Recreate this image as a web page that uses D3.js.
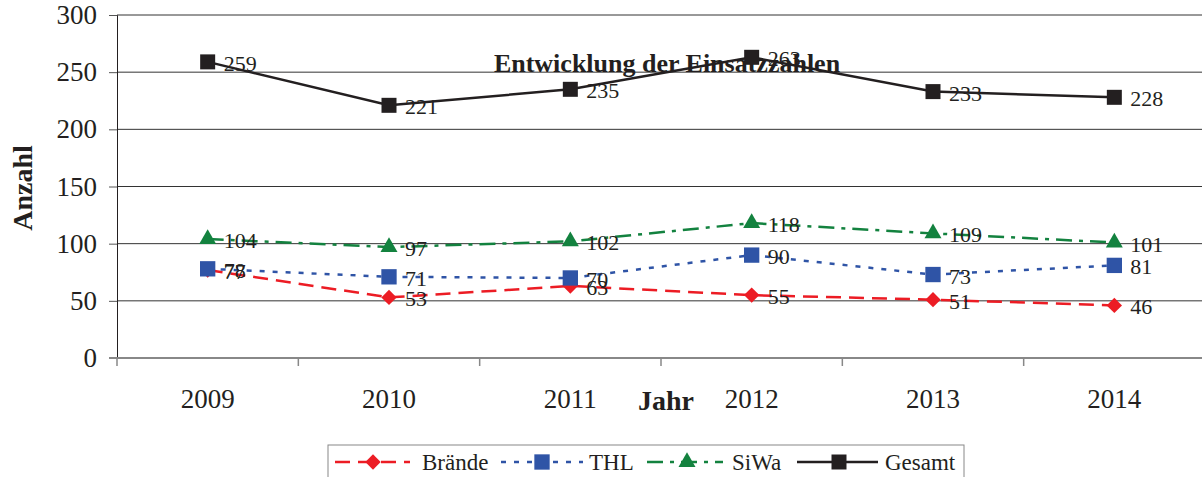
<!DOCTYPE html>
<html>
<head>
<meta charset="utf-8">
<script src="https://cdn.jsdelivr.net/npm/d3@7"></script>
<style>
  body { margin: 0; background: #fff; }
  svg { display: block; font-family: "Liberation Serif", "Times New Roman", serif; }
</style>
</head>
<body>
<svg id="chart" width="1202" height="477"></svg>
<script>
// data
const years = ["2009", "2010", "2011", "2012", "2013", "2014"];
const braende = [77, 53, 63, 55, 51, 46];
const thl = [78, 71, 70, 90, 73, 81];
const siwa = [104, 97, 102, 118, 109, 101];
const gesamt = [259, 221, 235, 263, 233, 228];
const yTicks = [0, 50, 100, 150, 200, 250, 300];

const series = [
    { name: "Brände", values: braende, color: "#ec1c24", dash: "15,8", shape: d3.symbolDiamond2, size: 150 },
    { name: "THL", values: thl, color: "#2f54a6", dash: "5,8", shape: d3.symbolSquare, size: 235 },
    { name: "SiWa", values: siwa, color: "#13823f", dash: "16,7,4,7", shape: d3.symbolTriangle, size: 125 },
    { name: "Gesamt", values: gesamt, color: "#231f20", dash: null, shape: d3.symbolSquare, size: 225 }
];

const svg = d3.select("#chart");
const plotLeft = 117, plotRight = 1205, plotTop = 15, plotBottom = 358;

const x = d3.scaleBand().domain(years).range([plotLeft, plotRight]);
const y = d3.scaleLinear().domain([0, 300]).range([plotBottom, plotTop]);

// gridlines
svg.append("g")
    .selectAll("line")
    .data(yTicks.filter(d => d > 0))
    .join("line")
    .attr("x1", plotLeft).attr("x2", 1202)
    .attr("y1", d => y(d)).attr("y2", d => y(d))
    .attr("stroke", "#333").attr("stroke-width", 1);

// y axis
const yAxis = svg.append("g")
    .attr("transform", `translate(${plotLeft},0)`)
    .call(d3.axisLeft(y).tickValues(yTicks).tickSize(8).tickPadding(12));
yAxis.select(".domain").attr("stroke", "#231f20");
yAxis.selectAll(".tick line").attr("stroke", "#555");
yAxis.selectAll("text").attr("font-size", 27).attr("font-family", "Liberation Serif").attr("fill", "#231f20");

// x axis
const xAxis = svg.append("g").attr("transform", `translate(0,${plotBottom})`);
xAxis.append("line")
    .attr("x1", plotLeft - 8).attr("x2", 1202)
    .attr("stroke", "#888").attr("stroke-width", 2);
xAxis.selectAll(".xtick")
    .data(years.map(d => x(d)).concat([plotRight]))
    .join("line")
    .attr("x1", d => d).attr("x2", d => d)
    .attr("y1", 0).attr("y2", 8)
    .attr("stroke", "#888").attr("stroke-width", 1.5);
xAxis.selectAll(".xlabel")
    .data(years)
    .join("text")
    .attr("x", d => x(d) + x.bandwidth() / 2)
    .attr("y", 50)
    .attr("text-anchor", "middle")
    .attr("font-size", 27)
    .attr("fill", "#231f20")
    .text(d => d);

// titles
svg.append("text")
    .attr("x", 667).attr("y", 72)
    .attr("text-anchor", "middle")
    .attr("font-size", 26).attr("font-weight", "bold").attr("fill", "#231f20")
    .text("Entwicklung der Einsatzzahlen");
svg.append("text")
    .attr("transform", "translate(32,188) rotate(-90)")
    .attr("text-anchor", "middle")
    .attr("font-size", 28).attr("font-weight", "bold").attr("fill", "#231f20")
    .text("Anzahl");
svg.append("text")
    .attr("x", 666).attr("y", 410)
    .attr("text-anchor", "middle")
    .attr("font-size", 28).attr("font-weight", "bold").attr("fill", "#231f20")
    .text("Jahr");

const cx = i => x(years[i]) + x.bandwidth() / 2;
const line = d3.line().x((d, i) => cx(i)).y(d => y(d));

series.forEach(s => {
    const g = svg.append("g");
    g.append("path")
        .attr("d", line(s.values))
        .attr("fill", "none")
        .attr("stroke", s.color)
        .attr("stroke-width", 2.5)
        .attr("stroke-dasharray", s.dash);
    g.selectAll("path.m")
        .data(s.values)
        .join("path")
        .attr("class", "m")
        .attr("transform", (d, i) => `translate(${cx(i)},${y(d)})`)
        .attr("d", d3.symbol().type(s.shape).size(s.size))
        .attr("fill", s.color);
    g.selectAll("text")
        .data(s.values)
        .join("text")
        .attr("x", (d, i) => cx(i) + 16)
        .attr("y", d => y(d) + 9)
        .attr("font-size", 22)
        .attr("fill", "#231f20")
        .text(d => d);
});

// legend
const legend = svg.append("g");
legend.append("rect")
    .attr("x", 328).attr("y", 445).attr("width", 636).attr("height", 40)
    .attr("fill", "#fff").attr("stroke", "#888").attr("stroke-width", 1);
const legendPos = [
    { x1: 335, x2: 410, m: 373, t: 422 },
    { x1: 501, x2: 583, m: 542, t: 589 },
    { x1: 647, x2: 723, m: 687, t: 732 },
    { x1: 797, x2: 878, m: 839, t: 885 }
];
series.forEach((s, i) => {
    const p = legendPos[i];
    const ly = 462;
    legend.append("line")
        .attr("x1", p.x1).attr("x2", p.x2).attr("y1", ly).attr("y2", ly)
        .attr("stroke", s.color).attr("stroke-width", 2.5)
        .attr("stroke-dasharray", s.dash);
    legend.append("path")
        .attr("transform", `translate(${p.m},${ly})`)
        .attr("d", d3.symbol().type(s.shape).size(s.size))
        .attr("fill", s.color);
    legend.append("text")
        .attr("x", p.t).attr("y", ly + 8)
        .attr("font-size", 23).attr("fill", "#231f20")
        .text(s.name);
});
</script>
</body>
</html>
